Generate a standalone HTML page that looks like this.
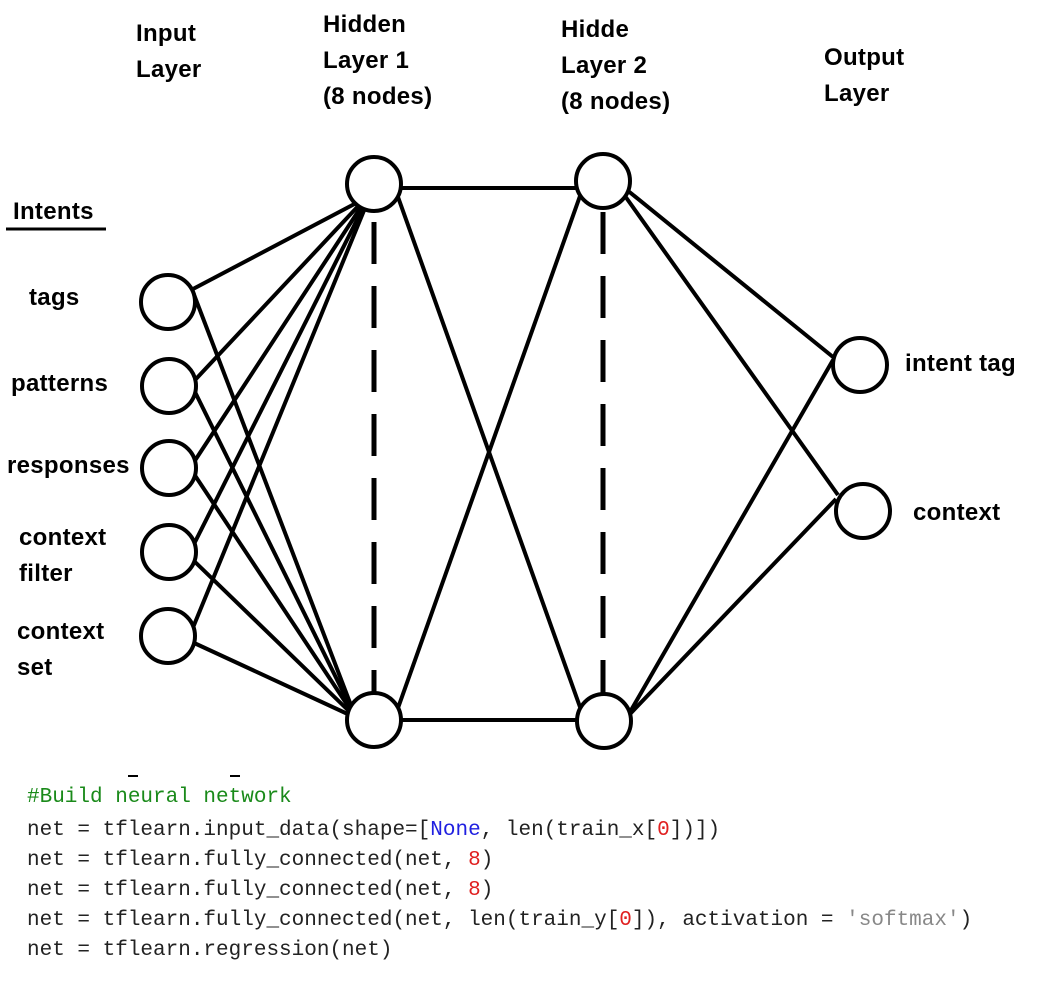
<!DOCTYPE html>
<html><head><meta charset="utf-8"><style>
html,body{margin:0;padding:0;background:#fff;width:1042px;height:1002px;overflow:hidden}
svg{display:block}
.t{font-family:"Liberation Sans",sans-serif;font-weight:bold;font-size:24px;letter-spacing:0.3px;fill:#000}
.c{font-family:"Liberation Mono",monospace;font-size:21px;fill:#222}
</style></head><body>
<svg width="1042" height="1002" viewBox="0 0 1042 1002">
<g stroke="#000" stroke-width="4" fill="none">
<line x1="193" y1="289" x2="362" y2="200"/>
<line x1="195" y1="380" x2="362" y2="202"/>
<line x1="194" y1="462" x2="363" y2="204"/>
<line x1="193" y1="546" x2="364" y2="206"/>
<line x1="192" y1="630" x2="365" y2="208"/>
<line x1="193" y1="292" x2="352" y2="708"/>
<line x1="195" y1="392" x2="352" y2="710"/>
<line x1="194" y1="474" x2="352" y2="712"/>
<line x1="193" y1="560" x2="352" y2="714"/>
<line x1="192" y1="642" x2="352" y2="716"/>
<line x1="401" y1="188" x2="577" y2="188"/>
<line x1="401" y1="720" x2="577" y2="720"/>
<line x1="398" y1="197" x2="580" y2="707"/>
<line x1="398" y1="708" x2="580" y2="196"/>
<line x1="627" y1="190" x2="833" y2="357"/>
<line x1="625" y1="196" x2="838" y2="495"/>
<line x1="630" y1="712" x2="833" y2="360"/>
<line x1="630" y1="714" x2="836" y2="499"/>
<line x1="374" y1="222" x2="374" y2="700" stroke-dasharray="42 22" stroke-width="5"/>
<line x1="603" y1="212" x2="603" y2="700" stroke-dasharray="42 22" stroke-width="5"/>
<line x1="6" y1="229" x2="106" y2="229" stroke-width="3"/>
</g>
<g stroke="#000" stroke-width="4" fill="#fff">
<circle cx="168" cy="302" r="27"/>
<circle cx="169" cy="386" r="27"/>
<circle cx="169" cy="468" r="27"/>
<circle cx="169" cy="552" r="27"/>
<circle cx="168" cy="636" r="27"/>
<circle cx="374" cy="184" r="27"/>
<circle cx="374" cy="720" r="27"/>
<circle cx="603" cy="181" r="27"/>
<circle cx="604" cy="721" r="27"/>
<circle cx="860" cy="365" r="27"/>
<circle cx="863" cy="511" r="27"/>
</g>
<g class="t">
<text x="136" y="41">Input</text>
<text x="136" y="77">Layer</text>
<text x="323" y="32">Hidden</text>
<text x="323" y="68">Layer 1</text>
<text x="323" y="104">(8 nodes)</text>
<text x="561" y="37">Hidde</text>
<text x="561" y="73">Layer 2</text>
<text x="561" y="109">(8 nodes)</text>
<text x="824" y="65">Output</text>
<text x="824" y="101">Layer</text>
<text x="13" y="219">Intents</text>
<text x="29" y="305">tags</text>
<text x="11" y="391">patterns</text>
<text x="7" y="473">responses</text>
<text x="19" y="545">context</text>
<text x="19" y="581">filter</text>
<text x="17" y="639">context</text>
<text x="17" y="675">set</text>
<text x="905" y="371">intent tag</text>
<text x="913" y="520">context</text>
</g>
<g stroke="#000" stroke-width="2"><line x1="128" y1="776" x2="138" y2="776"/><line x1="230" y1="776" x2="240" y2="776"/></g>
<g class="c" xml:space="preserve">
<text x="27" y="802" fill="#1a8a1a">#Build neural network</text>
<text x="27" y="835">net = tflearn.input_data(shape=[<tspan fill="#2020e0">None</tspan>, len(train_x[<tspan fill="#e02020">0</tspan>])])</text>
<text x="27" y="865">net = tflearn.fully_connected(net, <tspan fill="#e02020">8</tspan>)</text>
<text x="27" y="895">net = tflearn.fully_connected(net, <tspan fill="#e02020">8</tspan>)</text>
<text x="27" y="925">net = tflearn.fully_connected(net, len(train_y[<tspan fill="#e02020">0</tspan>]), activation = <tspan fill="#888">'softmax'</tspan>)</text>
<text x="27" y="955">net = tflearn.regression(net)</text>
</g>
</svg>
</body></html>
